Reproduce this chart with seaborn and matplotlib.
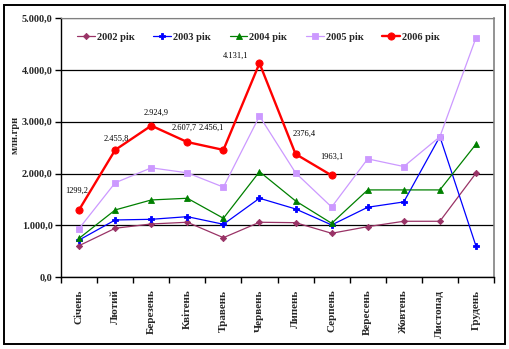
import numpy as np
import pandas as pd
import matplotlib
matplotlib.use("Agg")
import matplotlib.pyplot as plt
from matplotlib.patches import Rectangle
from matplotlib.ticker import FixedLocator, FuncFormatter
import seaborn as sns

months = ["Січень", "Лютий", "Березень", "Квітень", "Травень", "Червень",
          "Липень", "Серпень", "Вересень", "Жовтень", "Листопад", "Грудень"]

y2002 = [606, 942, 1025, 1058, 760, 1058, 1050, 845, 973, 1077, 1077, 2006]
y2003 = [715, 1102, 1115, 1166, 1019, 1522, 1315, 1006, 1348, 1451, 2714, 600]
y2004 = [748, 1296, 1489, 1522, 1135, 2036, 1470, 1038, 1683, 1683, 1683, 2566]
y2005 = [937, 1821, 2110, 2013, 1737, 3110, 2013, 1352, 2283, 2135, 2711, 4621]
y2006 = [1299.2, 2455.8, 2924.9, 2607.7, 2456.1, 4131.1, 2376.4, 1963.1,
         np.nan, np.nan, np.nan, np.nan]

labels2006 = ["1299,2", "2.455,8", "2.924,9", "2.607,7", "2.456,1",
              "4.131,1", "2376,4", "1963,1"]

series_names = ["2002 рік", "2003 рік", "2004 рік", "2005 рік", "2006 рік"]
series_values = [y2002, y2003, y2004, y2005, y2006]

colors = ["#993366", "#0000FF", "#008000", "#CC99FF", "#FF0000"]
markers = ["D", "P", "^", "s", "o"]
msizes = [3.2, 4.5, 4.2, 4.2, 5.2]
lwidths = [0.9, 0.9, 0.9, 0.9, 1.7]

sns.set_style("white")
plt.rcParams["font.family"] = ["Liberation Serif", "DejaVu Serif"]

fig = plt.figure(figsize=(5.09, 3.49), dpi=100)
ax = fig.add_axes([0.120, 0.2063, 0.8505, 0.7413])

# outer frame around the whole chart
fig.patches.append(Rectangle((4 / 509, 5 / 349), 501 / 509, 339 / 349,
                             transform=fig.transFigure, fill=False,
                             edgecolor="black", linewidth=1.4))

pos = np.arange(len(months))
for name, vals, c, m, ms, lw in zip(series_names, series_values, colors,
                                    markers, msizes, lwidths):
    df = pd.DataFrame({"x": pos, "y": vals}).dropna()
    sns.lineplot(data=df, x="x", y="y", ax=ax, color=c, marker=m,
                 markersize=ms, markeredgecolor=c, markeredgewidth=0.6,
                 linewidth=lw, sort=False, label=name, zorder=3)

# value labels for 2006
offsets = [(-2, 19), (1, 11), (5, 13), (-3, 14), (-12, 22), (-24, 7),
           (9, 20), (0, 19)]
for i, (txt, off) in enumerate(zip(labels2006, offsets)):
    ax.annotate(txt, (pos[i], y2006[i]), xytext=off,
                textcoords="offset pixels", ha="center", va="center",
                fontsize=6, color="black")

ax.set_xlim(-0.5, len(months) - 0.5)
ax.set_ylim(0, 5000)
ax.set_yticks(np.arange(0, 5001, 1000))
ax.yaxis.set_major_formatter(FuncFormatter(
    lambda v, p: f"{v:,.1f}".replace(",", " ").replace(".", ",").replace(" ", ".")))

ax.set_xticks(pos)
ax.set_xticklabels(months, rotation=90, fontsize=8, fontweight="bold",
                   va="top", ha="center")
ax.xaxis.set_minor_locator(FixedLocator(np.arange(-0.5, len(months), 1.0)))
ax.tick_params(axis="x", which="major", length=0, pad=9)
ax.tick_params(axis="x", which="minor", length=4, width=1, direction="out",
               color="black", bottom=True)
ax.tick_params(axis="y", length=4, width=1, direction="out", color="black",
               labelsize=7.5, left=True, pad=2)
for lab in ax.get_yticklabels():
    lab.set_fontweight("bold")

ax.grid(axis="y", color="black", linewidth=0.9)
ax.grid(axis="x", visible=False)
ax.set_axisbelow(True)

ax.spines["left"].set_color("black")
ax.spines["bottom"].set_color("black")
ax.spines["left"].set_linewidth(1)
ax.spines["bottom"].set_linewidth(1)
ax.spines["top"].set_color("#808080")
ax.spines["right"].set_color("#808080")
ax.spines["right"].set_linewidth(1.2)

ax.set_xlabel("")
ax.set_ylabel("млн.грн", fontsize=7.5, fontweight="bold")
ax.yaxis.set_label_coords(-41 / 433, 0.55)

leg = ax.legend(loc="center left", bbox_to_anchor=(16 / 433, 0.928), ncol=5,
                frameon=False, borderpad=0, borderaxespad=0,
                handlelength=1.7, handletextpad=0.2, columnspacing=1.8,
                prop={"size": 7.5, "weight": "bold"})

fig.savefig("out.png", dpi=100)
